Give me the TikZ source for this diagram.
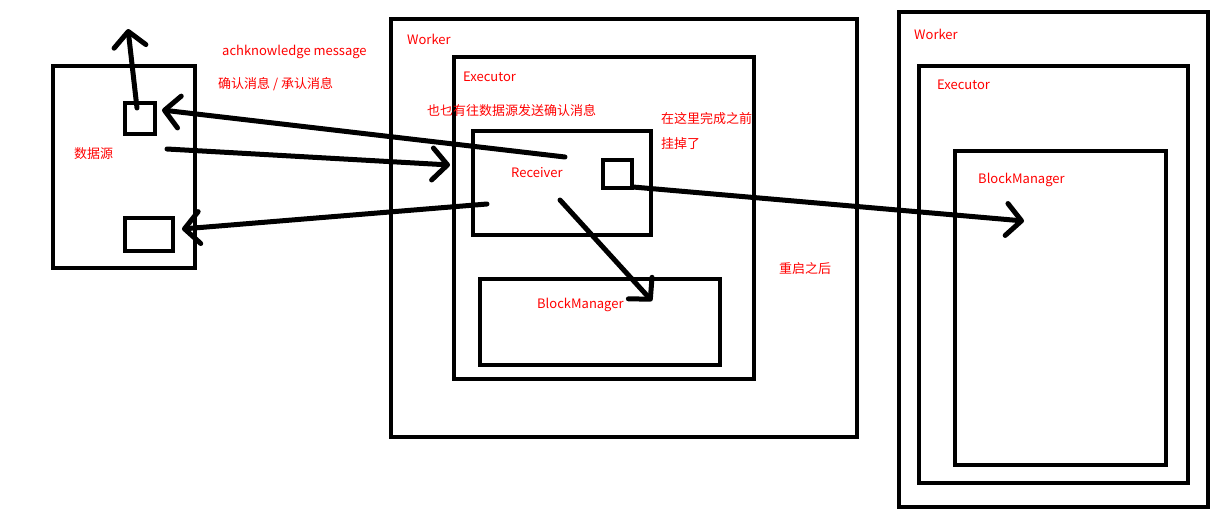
\documentclass[tikz,border=0pt]{standalone}
\usepackage{fontspec}
\newfontfamily\cjk{Noto Sans CJK SC}
\usetikzlibrary{arrows.meta}
\begin{document}
\begin{tikzpicture}[x=1pt,y=-1pt,
  box/.style={draw=black, line width=4.6pt, inner sep=0pt, outer sep=0pt},
  lbl/.style={text=red, font=\cjk\fontsize{13}{15}\selectfont, anchor=west, inner sep=0pt},
  conn/.style={line width=5pt, line cap=round, line join=round,
    -{Straight Barb[length=15pt,width=32pt,line cap=round,line join=round]}}]
\useasboundingbox (0,0) rectangle (1217,523);
\fill[white] (0,0) rectangle (1217,523);
% boxes
\node[box, minimum width=142pt, minimum height=202pt] (src) at (124,167) {};
\node[box, minimum width=30pt, minimum height=31pt] (ack) at (140,118.5) {};
\node[box, minimum width=48pt, minimum height=33pt] (ret) at (149,234.5) {};
\node[box, minimum width=466pt, minimum height=418pt] (w1) at (624,228) {};
\node[box, minimum width=300pt, minimum height=322pt] (e1) at (604,218) {};
\node[box, minimum width=178pt, minimum height=104pt] (rcv) at (562,183) {};
\node[box, minimum width=29pt, minimum height=28pt] (blk) at (617.5,174) {};
\node[box, minimum width=240pt, minimum height=86pt] (bm1) at (600,322) {};
\node[box, minimum width=309pt, minimum height=495pt] (w2) at (1053.5,259.5) {};
\node[box, minimum width=269pt, minimum height=417pt] (e2) at (1053.5,274.5) {};
\node[box, minimum width=211pt, minimum height=314pt] (bm2) at (1060.5,308) {};
% labels
\node[lbl] (tack) at (222,52) {achknowledge message};
\node[lbl] (tack2) at (218,84) {确认消息 / 承认消息};
\node[lbl] (tsrc) at (74,154) {数据源};
\node[lbl] (tw1) at (407,39) {Worker};
\node[lbl] (te1) at (463,77) {Executor};
\node[lbl] (tnote) at (427,111) {也乜有往数据源发送确认消息};
\node[lbl] (tbefore) at (661,119) {在这里完成之前};
\node[lbl] (tdied) at (661,144) {挂掉了};
\node[lbl] (trcv) at (511,173) {Receiver};
\node[lbl] (tbm1) at (537,305) {BlockManager};
\node[lbl] (trestart) at (779,269) {重启之后};
\node[lbl] (tw2) at (914,34) {Worker};
\node[lbl] (te2) at (937,85) {Executor};
\node[lbl] (tbm2) at (978,180) {BlockManager};
% connector end points
\coordinate (upS) at (137,108);
\coordinate (upE) at (128,29);
\coordinate (a1S) at (565,157);
\coordinate (a1E) at (162,110);
\coordinate (a2S) at (167,149);
\coordinate (a2E) at (450,165);
\coordinate (a3S) at (487,204);
\coordinate (a3E) at (182,229);
\coordinate (a4S) at (560,200);
\coordinate (a4E) at (652,301);
\coordinate (a5S) at (633,187);
\coordinate (a5E) at (1024,221);
% connectors
\draw[conn] (upS) -- (upE);
\draw[conn] (a1S) -- (a1E);
\draw[conn] (a2S) -- (a2E);
\draw[conn] (a3S) -- (a3E);
\draw[conn] (a4S) -- (a4E);
\draw[conn] (a5S) -- (a5E);
\end{tikzpicture}
\end{document}
